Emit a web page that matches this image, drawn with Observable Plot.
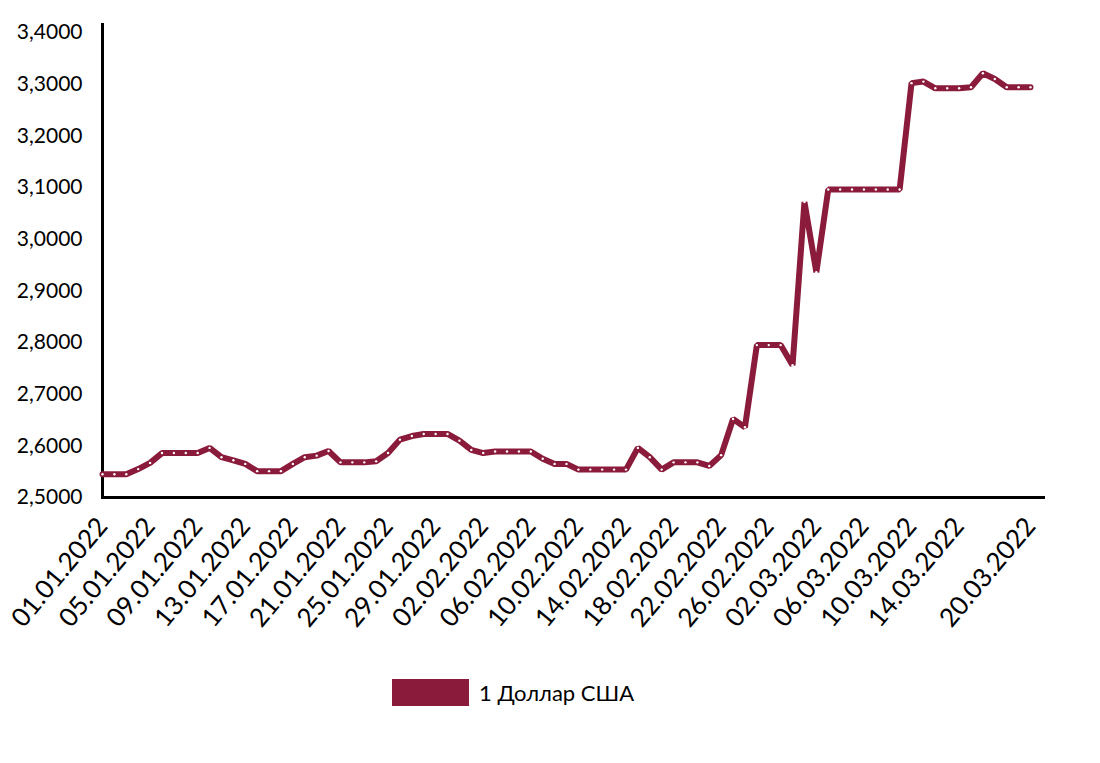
<!DOCTYPE html>
<html>
<head>
<meta charset="utf-8">
<script src="https://cdn.jsdelivr.net/npm/d3@7"></script>
<script src="https://cdn.jsdelivr.net/npm/@observablehq/plot@0.6"></script>
<style>
  body { margin: 0; background: #fff; font-family: Lato, sans-serif; }
  #legend { display: flex; align-items: center; margin-left: 392px; margin-top: 24px; font-size: 22px; color: #000; }
  #legend .sw { width: 77px; height: 27px; margin-right: 10px; }
</style>
</head>
<body>
<div id="chart"></div>
<div id="legend"><div class="sw"></div><span></span></div>
<script>
const seriesName = "1 Доллар США";
const seriesColor = "#8b1b3a";
const startDate = "2022-01-01";
// USD rate, daily from 01.01.2022 to 20.03.2022
const values = [
  2.545, 2.545, 2.545, 2.555, 2.567, 2.586, 2.586, 2.586, 2.586, 2.596,
  2.578, 2.572, 2.565, 2.551, 2.551, 2.551, 2.565, 2.578, 2.581, 2.590,
  2.568, 2.568, 2.568, 2.570, 2.586, 2.612, 2.619, 2.623, 2.623, 2.623,
  2.610, 2.592, 2.586, 2.589, 2.589, 2.589, 2.589, 2.575, 2.565, 2.565,
  2.554, 2.554, 2.554, 2.554, 2.554, 2.596, 2.578, 2.554, 2.568, 2.568,
  2.568, 2.561, 2.582, 2.652, 2.636, 2.795, 2.795, 2.795, 2.756, 3.072,
  2.936, 3.096, 3.096, 3.096, 3.096, 3.096, 3.096, 3.096, 3.302, 3.305,
  3.292, 3.292, 3.292, 3.294, 3.321, 3.310, 3.294, 3.294, 3.294
];
const xTickLabels = [
  "01.01.2022", "05.01.2022", "09.01.2022", "13.01.2022", "17.01.2022",
  "21.01.2022", "25.01.2022", "29.01.2022", "02.02.2022", "06.02.2022",
  "10.02.2022", "14.02.2022", "18.02.2022", "22.02.2022", "26.02.2022",
  "02.03.2022", "06.03.2022", "10.03.2022", "14.03.2022", "20.03.2022"
];
const yTicks = [2.5, 2.6, 2.7, 2.8, 2.9, 3.0, 3.1, 3.2, 3.3, 3.4];

const parseLabel = d3.utcParse("%d.%m.%Y");
const fmtLabel = d3.utcFormat("%d.%m.%Y");
const start = d3.utcParse("%Y-%m-%d")(startDate);
const data = values.map((v, i) => ({date: d3.utcDay.offset(start, i), value: v}));
const tickDates = xTickLabels.map(parseLabel);

const chart = Plot.plot({
  width: 1100,
  height: 655,
  marginTop: 23,
  marginBottom: 158,
  marginLeft: 101,
  marginRight: 55,
  style: {fontFamily: "Lato, sans-serif", color: "#000", background: "#fff"},
  x: {type: "utc", domain: [data[0].date, data[data.length - 1].date], insetLeft: 1, insetRight: 15},
  y: {domain: [yTicks[0], yTicks[yTicks.length - 1]], insetTop: 9},
  marks: [
    Plot.axisY({ticks: yTicks, tickFormat: d => d.toFixed(4).replace(".", ","), tickSize: 0, tickPadding: 19, fontSize: 21, label: null}),
    Plot.axisX({ticks: tickDates, tickFormat: fmtLabel, tickRotate: -50, tickSize: 0, tickPadding: 24, fontSize: 26, label: null}),
    Plot.ruleY([yTicks[0]], {stroke: "#000", strokeWidth: 3}),
    Plot.ruleX([data[0].date], {stroke: "#000", strokeWidth: 3}),
    Plot.line(data, {x: "date", y: "value", stroke: seriesColor, strokeWidth: 6, strokeLinejoin: "miter"}),
    Plot.dot(data, {x: "date", y: "value", r: 1.2, fill: "#fff", stroke: "none"})
  ]
});
document.getElementById("chart").append(chart);
document.querySelector("#legend .sw").style.background = seriesColor;
document.querySelector("#legend span").textContent = seriesName;
</script>
</body>
</html>
